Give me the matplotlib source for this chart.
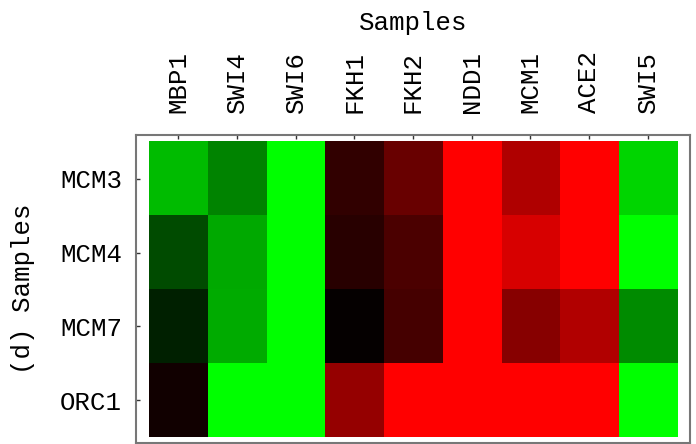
import numpy as np
import matplotlib
matplotlib.use("Agg")
import matplotlib.pyplot as plt
from matplotlib.colors import LinearSegmentedColormap

# data: signed intensity, negative = green, positive = red
columns = ['MBP1', 'SWI4', 'SWI6', 'FKH1', 'FKH2', 'NDD1', 'MCM1', 'ACE2', 'SWI5']
rows = ['MCM3', 'MCM4', 'MCM7', 'ORC1']
mcm3 = [-0.73, -0.51, -1.0, 0.19, 0.41, 1.0, 0.68, 1.0, -0.83]
mcm4 = [-0.29, -0.66, -1.0, 0.16, 0.29, 1.0, 0.84, 1.0, -1.0]
mcm7 = [-0.13, -0.67, -1.0, 0.02, 0.27, 1.0, 0.53, 0.69, -0.54]
orc1 = [0.07, -1.0, -1.0, 0.58, 1.0, 1.0, 1.0, 1.0, -1.0]

values = np.array([mcm3, mcm4, mcm7, orc1])

cmap = LinearSegmentedColormap.from_list('gbr', [(0, (0, 1, 0)), (0.5, (0, 0, 0)), (1, (1, 0, 0))])

plt.rcParams['font.family'] = ['Liberation Mono', 'DejaVu Sans Mono']

fig = plt.figure(figsize=(6.96, 4.44), dpi=100)
ax = fig.add_axes([136/696, 1/444, 554/696, 308/444])

ax.imshow(values, cmap=cmap, vmin=-1, vmax=1, aspect='auto', interpolation='nearest')

# padding between frame and cells
ax.set_xlim(-0.5 - 0.22, len(columns) - 0.5 + 0.22)
ax.set_ylim(len(rows) - 0.5 + 0.08, -0.5 - 0.095)

ax.xaxis.tick_top()
ax.set_xticks(range(len(columns)))
ax.set_xticklabels(columns, rotation=90, fontsize=18.5)
ax.set_yticks(range(len(rows)))
ax.set_yticklabels(rows, fontsize=18.5)
ax.tick_params(axis='x', direction='in', length=3, width=1, color='#333333', pad=16)
ax.tick_params(axis='y', direction='in', length=3, width=1, color='#333333', pad=10)

for s in ax.spines.values():
    s.set_color('#777777')
    s.set_linewidth(1.5)

ax.xaxis.set_label_position('top')
ax.set_xlabel('Samples', fontsize=18.5)
ax.xaxis.set_label_coords(0.5, 1.34)
ax.set_ylabel('(d) Samples', fontsize=18.5)
ax.yaxis.set_label_coords(-0.182, 0.5)

fig.savefig('out.png', dpi=100)
